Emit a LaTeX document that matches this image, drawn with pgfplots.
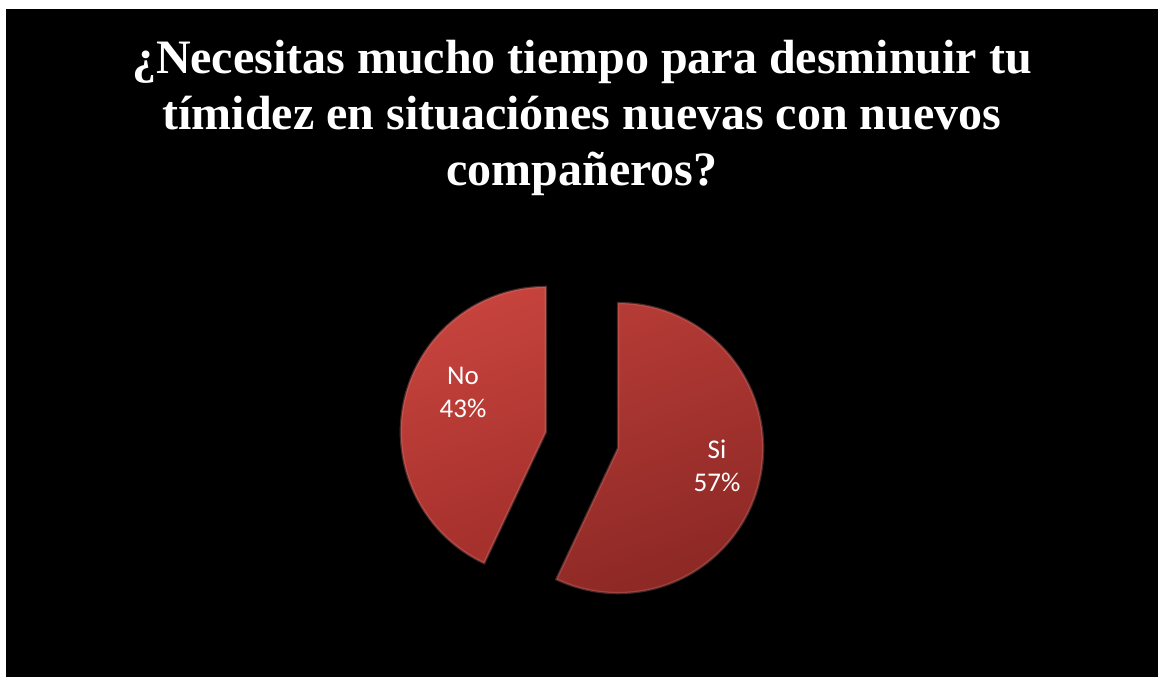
\documentclass[border=0pt]{standalone}
\usepackage{fontspec}
\setmainfont{Carlito}
\newfontfamily\titlefont{Liberation Serif}
\usepackage{pgfplots}
\pgfplotsset{compat=1.18}
\usepackage{pgfplotstable}
\pgfplotstableread{
label value
Si 57
No 43
}\piedata
\definecolor{noTop}{RGB}{200,68,62}
\definecolor{noBot}{RGB}{165,48,44}
\definecolor{siTop}{RGB}{180,58,53}
\definecolor{siBot}{RGB}{140,40,37}
\begin{document}
\begin{tikzpicture}
\begin{axis}[x=0.5pt,y=0.5pt,xmin=0,xmax=1158,ymin=0,ymax=677,
  hide axis, clip=false, scale only axis]
\fill[white] (axis cs:0,0) rectangle (axis cs:1158,677);
\fill[black] (axis cs:6,0) rectangle (axis cs:1158,668);
% title
\node[anchor=base,text=white,font=\titlefont\bfseries\fontsize{24}{28}\selectfont] at (axis cs:582,604) {¿Necesitas mucho tiempo para desminuir tu};
\node[anchor=base,text=white,font=\titlefont\bfseries\fontsize{24}{28}\selectfont] at (axis cs:582,548) {tímidez en situaciónes nuevas con nuevos};
\node[anchor=base,text=white,font=\titlefont\bfseries\fontsize{24}{28}\selectfont] at (axis cs:582,492) {compañeros?};
% pie
\pgfplotstablegetelem{0}{value}\of\piedata \let\vSi\pgfplotsretval
\pgfplotstablegetelem{1}{value}\of\piedata \let\vNo\pgfplotsretval
\pgfmathsetmacro{\aSi}{90-3.6*\vSi}
\pgfmathsetmacro{\aNo}{\aSi-3.6*\vNo}
\pgfmathsetmacro{\mSi}{90-1.8*\vSi}
\pgfmathsetmacro{\mNo}{\aSi-1.8*\vNo}
\pgfmathsetmacro{\cxSi}{582+37*cos(\mSi)}
\pgfmathsetmacro{\cySi}{237+37*sin(\mSi)}
\pgfmathsetmacro{\cxNo}{582+37*cos(\mNo)}
\pgfmathsetmacro{\cyNo}{237+37*sin(\mNo)}
\shade[top color=siTop,bottom color=siBot,shading angle=20]
  (axis cs:\cxSi,\cySi) -- ++(90:72.5pt) arc[start angle=90,end angle=\aSi,radius=72.5pt] -- cycle;
\draw[line width=1.2pt,color=siTop!70!white,opacity=0.35]
  (axis cs:\cxSi,\cySi) -- ++(90:72.5pt) arc[start angle=90,end angle=\aSi,radius=72.5pt] -- cycle;
\shade[top color=noTop,bottom color=noBot,shading angle=20]
  (axis cs:\cxNo,\cyNo) -- ++(\aSi:72.5pt) arc[start angle=\aSi,end angle=\aNo,radius=72.5pt] -- cycle;
\draw[line width=1.2pt,color=noTop!70!white,opacity=0.35]
  (axis cs:\cxNo,\cyNo) -- ++(\aSi:72.5pt) arc[start angle=\aSi,end angle=\aNo,radius=72.5pt] -- cycle;
% labels
\node[text=white,align=center,font=\fontsize{13.5}{16.5}\selectfont] at (axis cs:463,285) {No\\43\%};
\node[text=white,align=center,font=\fontsize{13.5}{16.5}\selectfont] at (axis cs:717,211) {Si\\57\%};
\end{axis}
\end{tikzpicture}
\end{document}
